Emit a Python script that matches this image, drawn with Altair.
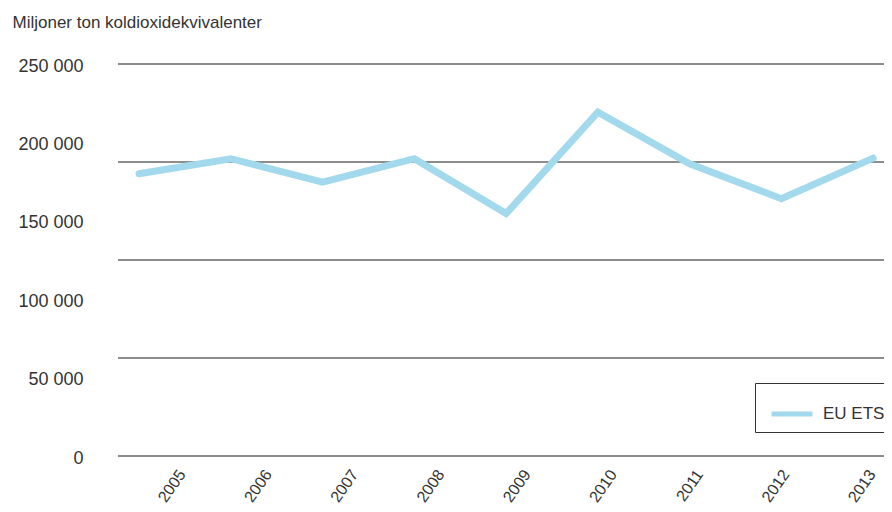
import altair as alt
import pandas as pd

years = ["2005", "2006", "2007", "2008", "2009", "2010", "2011", "2012", "2013"]
values = [180000, 189600, 174700, 189600, 154600, 219300, 186400, 164100, 190000]
series = ["EU ETS"] * len(years)
y_label_values = [0, 50000, 100000, 150000, 200000, 250000]
grid_values = [0, 62500, 125000, 187500, 250000]
y_title = "Miljoner ton koldioxidekvivalenter"

df = pd.DataFrame({"year": years, "value": values, "series": series})
grid_df = pd.DataFrame({"g": grid_values})

FONT = "Liberation Sans"
TXT = "#333333"
yscale = alt.Scale(domain=[0, 250000], nice=False, zero=True)

yaxis = alt.Axis(
    values=y_label_values,
    grid=False,
    ticks=False,
    domain=False,
    labelFont=FONT,
    labelFontSize=18,
    labelColor=TXT,
    labelPadding=35,
    labelOffset=2,
    labelExpr="replace(format(datum.value, ','), ',', ' ')",
    title=y_title,
    titleFont=FONT,
    titleFontSize=17,
    titleFontWeight="normal",
    titleColor=TXT,
    titleAngle=0,
    titleAlign="left",
    titleBaseline="alphabetic",
    titleX=-106,
    titleY=-37,
)

grid = alt.Chart(grid_df).mark_rule(color="#1a1a1a", strokeWidth=1).encode(
    y=alt.Y("g:Q", scale=yscale, axis=yaxis, title=y_title)
)

line = alt.Chart(df).mark_line(strokeWidth=7, strokeCap="round", strokeJoin="miter").encode(
    x=alt.X("year:O", scale=alt.Scale(type="point", padding=0.174, align=0.66), axis=None),
    y=alt.Y("value:Q", scale=yscale, axis=yaxis, title=y_title),
    color=alt.Color(
        "series:N",
        scale=alt.Scale(range=["#a3d9ec"]),
        legend=alt.Legend(
            title=None,
            orient="none",
            legendX=637,
            legendY=319,
            symbolType="stroke",
            symbolStrokeWidth=5,
            symbolSize=1681,
            labelFont=FONT,
            labelFontSize=17,
            labelColor=TXT,
            labelOffset=8,
            strokeColor="#333333",
            fillColor="white",
            padding=8,
            symbolOffset=6,
        ),
    ),
)

labels = alt.Chart(df).mark_point(opacity=0).encode(
    x=alt.X(
        "year:O",
        scale=alt.Scale(type="point", padding=0.44, align=0.84),
        axis=alt.Axis(
            orient="bottom",
            title=None,
            domain=False,
            ticks=False,
            grid=False,
            labelAngle=-55,
            labelAlign="right",
            labelBaseline="middle",
            labelFont=FONT,
            labelFontSize=16,
            labelColor=TXT,
            labelPadding=15,
        ),
    ),
    y=alt.Y("value:Q", scale=yscale, axis=yaxis, title=y_title),
)

chart = (
    alt.layer(grid, line, labels)
    .resolve_scale(x="independent")
    .properties(
        width=766,
        height=392,
        autosize=alt.AutoSizeParams(type="none"),
        padding={"left": 110, "top": 56, "right": 0, "bottom": 48},
    )
    .configure_view(stroke=None)
)

chart.save("out.html", embed_options={"renderer": "svg", "actions": False})
